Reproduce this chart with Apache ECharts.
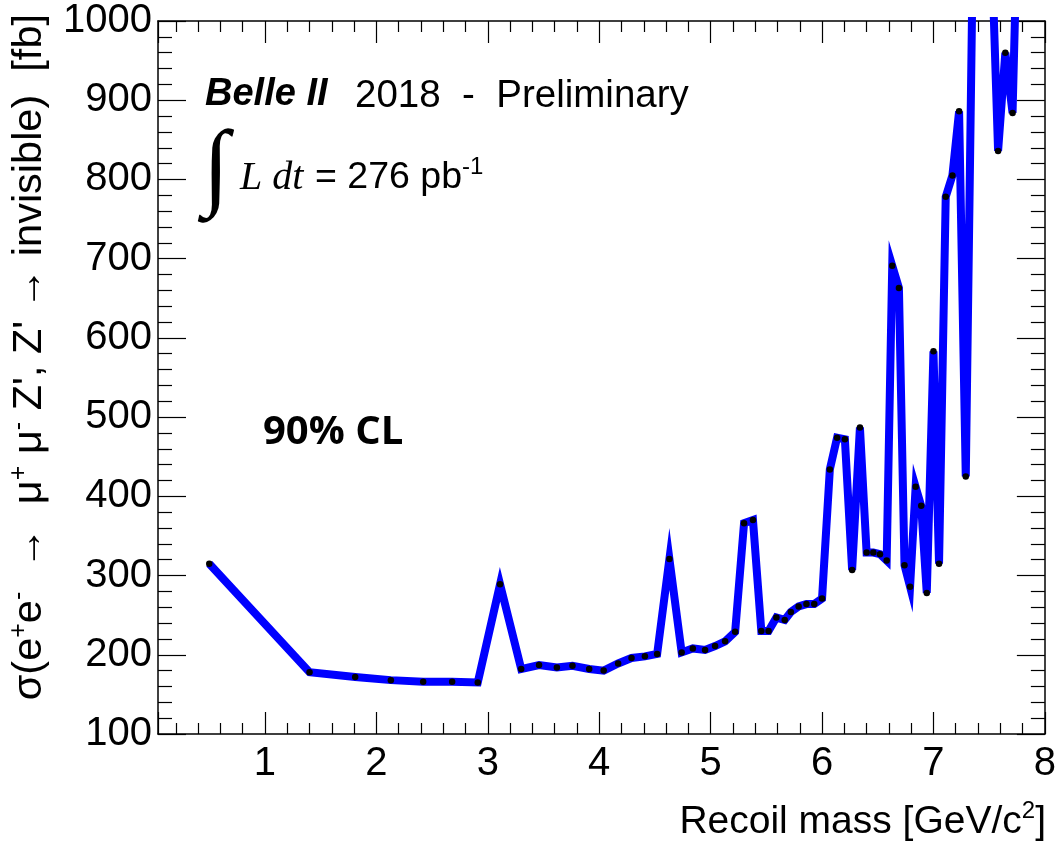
<!DOCTYPE html>
<html>
<head>
<meta charset="utf-8">
<title>Z' to invisible upper limit</title>
<script src="https://cdn.jsdelivr.net/npm/echarts@6/dist/echarts.min.js"></script>
<style>
  html, body { margin: 0; padding: 0; background: #fff; }
  #chart { width: 1059px; height: 862px; }
</style>
</head>
<body>
<div id="chart"></div>
<script>
// Recoil mass points [GeV/c^2]
const recoilMass = [
  0.50, 1.40, 1.81, 2.13, 2.42, 2.68, 2.91, 3.11, 3.30, 3.46,
  3.62, 3.76, 3.91, 4.04, 4.17, 4.29, 4.41, 4.52, 4.63, 4.74,
  4.84, 4.95, 5.04, 5.13, 5.22, 5.30, 5.38, 5.455, 5.52, 5.59,
  5.665, 5.72, 5.79, 5.86, 5.93, 6.00, 6.07, 6.135, 6.205, 6.27,
  6.34, 6.40, 6.46, 6.52, 6.58, 6.63, 6.69, 6.74, 6.79, 6.84,
  6.89, 6.94, 7.00, 7.05, 7.11, 7.17, 7.23, 7.29, 7.35, 7.41,
  7.46, 7.52, 7.58, 7.645, 7.71, 7.77, 7.83
];
// 90% CL upper limit on the cross section [fb]
const upperLimit = [
  315, 178, 172, 168, 166, 166, 165, 289, 182, 187,
  184, 186, 182, 180, 189, 196, 198, 201, 321, 203,
  208, 206, 211, 217, 229, 366, 370, 230, 230, 247,
  244, 254, 261, 264, 264, 271, 434, 474, 472, 307,
  487, 329, 329, 327, 319, 691, 663, 313, 286, 412,
  388, 278, 583, 315, 778, 805, 886, 425, 1050, 1300,
  1250, 1100, 836, 960, 884, 1220, 1400
];

const xRange = [0.04, 8];
const yRange = [100, 1000];
const yStep = 100;

const SANS = '"Liberation Sans", Arial, Helvetica, sans-serif';
const SERIF = '"Liberation Serif", "Times New Roman", serif';

const chart = echarts.init(document.getElementById('chart'), null, { renderer: 'canvas' });

const frameLine = { show: true, onZero: false, lineStyle: { color: '#000', width: 1.5 } };
const tickLine = { color: '#000', width: 1.2 };
const plainNumber = v => String(v);

function xAxisDef(pos, showLabels) {
  return {
    type: 'value', position: pos, min: xRange[0], max: xRange[1], splitNumber: 8,
    axisLine: frameLine,
    axisTick: { show: true, inside: true, length: 22, lineStyle: tickLine },
    minorTick: { show: true, splitNumber: 5, length: 11, lineStyle: tickLine },
    axisLabel: { show: showLabels, showMinLabel: false, formatter: plainNumber, color: '#000', fontSize: 40, fontFamily: SANS, margin: 10 },
    splitLine: { show: false }
  };
}
function yAxisDef(pos, showLabels) {
  return {
    type: 'value', position: pos, min: yRange[0], max: yRange[1], interval: yStep,
    axisLine: frameLine,
    axisTick: { show: true, inside: true, length: 28, lineStyle: tickLine },
    minorTick: { show: true, splitNumber: 5, length: 14, lineStyle: tickLine },
    axisLabel: { show: showLabels, formatter: plainNumber, color: '#000', fontSize: 40, fontFamily: SANS, margin: 6 },
    splitLine: { show: false }
  };
}

const option = {
  animation: false,
  backgroundColor: '#fff',
  grid: { left: 158, right: 12, top: 21, bottom: 128, containLabel: false },
  xAxis: [xAxisDef('bottom', true), xAxisDef('top', false)],
  yAxis: [yAxisDef('left', true), yAxisDef('right', false)],
  series: [{
    type: 'line',
    xAxisIndex: 0, yAxisIndex: 0,
    data: recoilMass.map((m, i) => [m, upperLimit[i]]),
    clip: true,
    showAllSymbol: true,
    symbol: 'circle', symbolSize: 6.5,
    itemStyle: { color: '#000', borderWidth: 0 },
    lineStyle: { color: '#0000ff', width: 8, join: 'miter', miterLimit: 10 },
    emphasis: { disabled: true },
    z: 3
  }],
  graphic: [
    { // y-axis title
      type: 'text', x: 30, y: 14, rotation: Math.PI / 2, silent: true,
      style: {
        text: '{n|σ(e}{s|+}{n|e}{s|-}{n|  →  μ}{s|+}{n| μ}{s|-}{n| Z\', Z\' → invisible)  [fb]}',
        align: 'right', verticalAlign: 'middle', textAlign: 'right', textVerticalAlign: 'middle',
        fill: '#000',
        rich: {
          n: { fontSize: 41.5, fontFamily: SANS, color: '#000', lineHeight: 46, verticalAlign: 'middle' },
          s: { fontSize: 25, fontFamily: SANS, color: '#000', lineHeight: 46, verticalAlign: 'top' }
        }
      }
    },
    { // x-axis title
      type: 'text', x: 1046, y: 822, silent: true,
      style: {
        text: '{n|Recoil mass [GeV/c}{s|2}{n|]}',
        align: 'right', verticalAlign: 'middle', textAlign: 'right', textVerticalAlign: 'middle',
        rich: {
          n: { fontSize: 39, fontFamily: SANS, color: '#000', lineHeight: 46, verticalAlign: 'middle' },
          s: { fontSize: 24, fontFamily: SANS, color: '#000', lineHeight: 46, verticalAlign: 'top' }
        }
      }
    },
    {
      type: 'text', x: 205, y: 95, silent: true,
      style: { text: 'Belle II', fontSize: 38, fontWeight: 'bold', fontStyle: 'italic', fontFamily: SANS, fill: '#000', verticalAlign: 'middle', textVerticalAlign: 'middle' }
    },
    {
      type: 'text', x: 355, y: 96, silent: true,
      style: { text: '2018  -  Preliminary', fontSize: 38.5, fontFamily: SANS, fill: '#000', verticalAlign: 'middle', textVerticalAlign: 'middle' }
    },
    {
      type: 'text', x: 203, y: 172, silent: true,
      style: { text: '∫', fontSize: 96, fontFamily: SERIF, fill: '#000', verticalAlign: 'middle', textVerticalAlign: 'middle' }
    },
    {
      type: 'text', x: 240, y: 178, silent: true,
      style: { text: 'L dt', fontSize: 40, fontStyle: 'italic', fontFamily: SERIF, fill: '#000', verticalAlign: 'middle', textVerticalAlign: 'middle' }
    },
    {
      type: 'text', x: 315, y: 178, silent: true,
      style: {
        text: '{n|= 276 pb}{s|-1}',
        verticalAlign: 'middle', textVerticalAlign: 'middle',
        rich: {
          n: { fontSize: 37.5, fontFamily: SANS, color: '#000', lineHeight: 46, verticalAlign: 'middle' },
          s: { fontSize: 24, fontFamily: SANS, color: '#000', lineHeight: 46, verticalAlign: 'top' }
        }
      }
    },
    {
      type: 'text', x: 263, y: 433, silent: true,
      style: { text: '90% CL', fontSize: 40, fontWeight: 'bold', fontFamily: '"Open Sans", Lato, sans-serif', fill: '#000', verticalAlign: 'middle', textVerticalAlign: 'middle' }
    }
  ]
};

chart.setOption(option);
</script>
</body>
</html>
